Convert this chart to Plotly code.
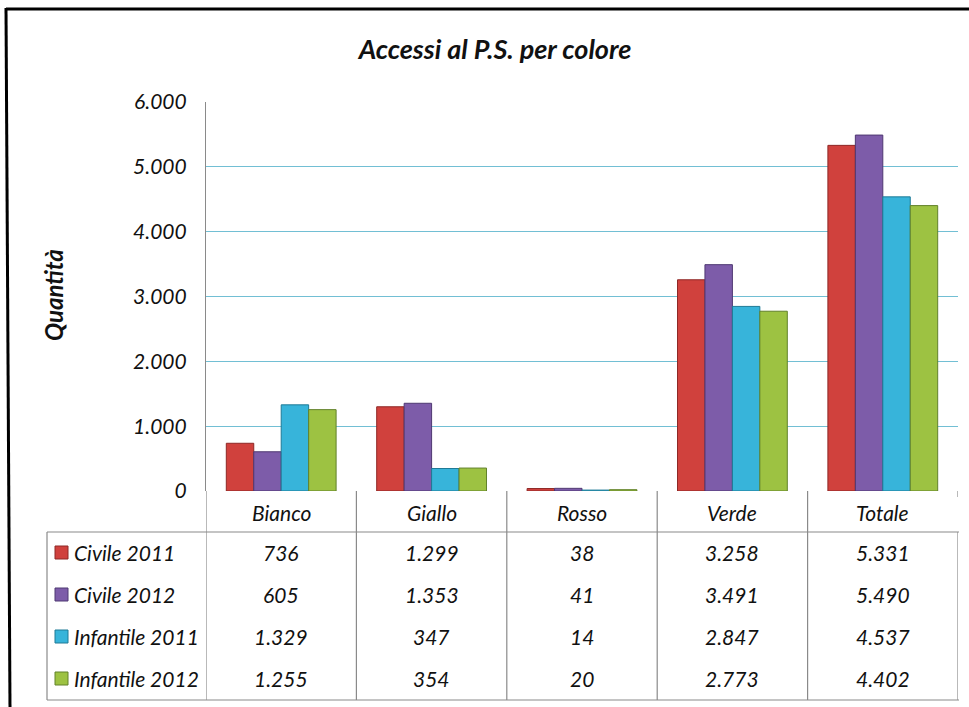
import plotly.graph_objects as go

categories = ["Bianco", "Giallo", "Rosso", "Verde", "Totale"]
series_names = ["Civile 2011", "Civile 2012", "Infantile 2011", "Infantile 2012"]
civile_2011 = [736, 1299, 38, 3258, 5331]
civile_2012 = [605, 1353, 41, 3491, 5490]
infantile_2011 = [1329, 347, 14, 2847, 4537]
infantile_2012 = [1255, 354, 20, 2773, 4402]
y_ticks = [0, 1000, 2000, 3000, 4000, 5000, 6000]

series_values = [civile_2011, civile_2012, infantile_2011, infantile_2012]
colors = ["#D0413D", "#7D5CA9", "#37B4DA", "#9DC242"]
edge_colors = ["#8E2826", "#4F3872", "#1F7A96", "#62822A"]

W, H = 969, 707
L, R, T, B = 206, 11, 102, 216
PW = W - L - R
PH = H - T - B
FONT = "Lato"
BODY = 21


def px(xpix):
    return (xpix - L) / PW


def py(ypix):
    return (H - B - ypix) / PH


def fmt(v):
    return f"{v:,}".replace(",", ".")


body_font = dict(family=FONT, size=BODY, color="#111111", style="italic")

fig = go.Figure()
for name, vals, c, ec in zip(series_names, series_values, colors, edge_colors):
    fig.add_trace(go.Bar(
        x=categories, y=vals, name=name,
        marker=dict(color=c, line=dict(color=ec, width=1)),
        showlegend=False,
    ))

shapes = []
annotations = []

# table rows
row_pix = [552, 594, 636, 678]
for (name, vals, c, ec, yp) in zip(series_names, series_values, colors, edge_colors, row_pix):
    shapes.append(dict(type="rect", xref="paper", yref="paper",
                       x0=px(55), x1=px(68), y0=py(yp + 7), y1=py(yp - 6),
                       fillcolor=c, line=dict(color=ec, width=1)))
    annotations.append(dict(xref="paper", yref="paper", x=px(72), y=py(yp),
                            text=name, showarrow=False, xanchor="left", yanchor="middle",
                            font=body_font))
    for cat, v in zip(categories, vals):
        annotations.append(dict(xref="x", yref="paper", x=cat, y=py(yp),
                                text=fmt(v), showarrow=False, xanchor="center", yanchor="middle",
                                font=body_font))

# header labels
for cat in categories:
    annotations.append(dict(xref="x", yref="paper", x=cat, y=py(512),
                            text=cat, showarrow=False, xanchor="center", yanchor="middle",
                            font=body_font))

line_style = dict(color="#8A8A8A", width=1.2)
# vertical column separators
for i in range(len(categories) + 1):
    xb = i - 0.5
    top = 491 if i < len(categories) else 532
    shapes.append(dict(type="line", xref="x", yref="paper", x0=xb, x1=xb,
                       y0=py(top), y1=py(700), line=line_style))
    if i == len(categories):
        shapes.append(dict(type="line", xref="x", yref="paper", x0=xb, x1=xb,
                           y0=py(491), y1=py(497), line=line_style))
# table horizontal borders and left border
shapes.append(dict(type="line", xref="paper", yref="paper", x0=px(47), x1=px(959),
                   y0=py(532), y1=py(532), line=line_style))
shapes.append(dict(type="line", xref="paper", yref="paper", x0=px(47), x1=px(959),
                   y0=py(700), y1=py(700), line=line_style))
shapes.append(dict(type="line", xref="paper", yref="paper", x0=px(47), x1=px(47),
                   y0=py(532), y1=py(700), line=line_style))

# outer chart border
shapes.append(dict(type="line", xref="paper", yref="paper", x0=px(6), x1=px(969),
                   y0=py(9), y1=py(9), line=dict(color="#000000", width=3)))
shapes.append(dict(type="line", xref="paper", yref="paper", x0=px(6), x1=px(10),
                   y0=py(8), y1=py(707), line=dict(color="#000000", width=3)))

# y axis title
annotations.append(dict(xref="paper", yref="paper", x=px(53), y=py(295),
                        text="<b>Quantità</b>", showarrow=False, textangle=-90,
                        xanchor="center", yanchor="middle",
                        font=dict(family=FONT, size=24, color="#111111", style="italic")))

fig.update_layout(
    width=W, height=H, autosize=False,
    margin=dict(l=L, r=R, t=T, b=B, pad=0),
    paper_bgcolor="white", plot_bgcolor="white",
    separators=",.",
    barmode="group", bargap=0.27, bargroupgap=0.0,
    title=dict(text="<b>Accessi al P.S. per colore</b>", xref="container", x=495 / W,
               xanchor="center", yref="container", y=1 - 50 / H, yanchor="middle",
               font=dict(family=FONT, size=27, color="#111111", style="italic")),
    xaxis=dict(range=[-0.5, 4.5], showticklabels=False, showgrid=False,
               showline=False, zeroline=False, ticks=""),
    yaxis=dict(range=[0, 6000], tickvals=y_ticks, tickformat=",d",
               showgrid=True, gridcolor="#72BFD4", gridwidth=1.3,
               zeroline=False, showline=True, linecolor="#8A8A8A", linewidth=1.2,
               ticks="", ticklabelstandoff=14,
               tickfont=body_font),
    shapes=shapes,
    annotations=annotations,
)

fig.write_html("out.html")
